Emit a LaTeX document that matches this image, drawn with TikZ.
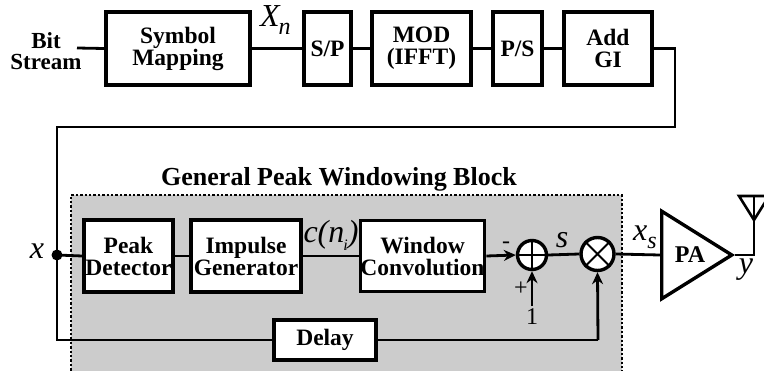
\documentclass[tikz,border=0pt]{standalone}
\usepackage{fontspec}
\setmainfont{Liberation Serif}
\usetikzlibrary{arrows.meta,shapes.geometric}
\begin{document}
\begin{tikzpicture}[x=1pt,y=-1pt,
 blk/.style={draw, line width=3.6pt, fill=white, font=\fontsize{23.5}{22}\selectfont\bfseries, align=center, inner sep=0pt},
 wire/.style={line width=2.8pt},
 arr/.style={wire, -{Stealth[length=12pt,width=11pt]}},
 lbl/.style={font=\fontsize{32}{32}\selectfont\itshape, inner sep=0pt},
 sml/.style={font=\fontsize{24}{24}\selectfont, inner sep=0pt},
 opc/.style={circle, draw, line width=3.4pt, fill=white, inner sep=0pt},
]
\useasboundingbox (0,0) rectangle (764,370);
% shaded block
\fill[black!20] (71,195) rectangle (622,375);
\draw[line width=2.4pt, dotted] (71,375) -- (71,195) -- (622,195) -- (622,375);
\node[font=\fontsize{26}{26}\selectfont\bfseries, inner sep=0pt] (title) at (339,179) {General Peak Windowing\ Block};

% top row
\node[font=\fontsize{23}{21}\selectfont\bfseries, align=center, inner sep=0pt] (bits) at (46,51) {Bit\\Stream};
\coordinate (bsout) at (77,48);
\node[blk, minimum width=144pt, minimum height=73pt] (sym) at (178,48.5) {Symbol\\Mapping};
\node[blk, minimum width=47pt, minimum height=73pt] (sp) at (327.5,48.5) {S/P};
\node[blk, minimum width=99pt, minimum height=73pt] (mod) at (421.5,48.5) {MOD\\(IFFT)};
\node[blk, minimum width=49pt, minimum height=73pt] (ps) at (517.5,48.5) {P/S};
\node[blk, minimum width=88pt, minimum height=73pt] (gi) at (608,48.5) {Add\\GI};
\node[lbl, anchor=west] (xn) at (260,20) {X\kern-1pt\raisebox{-8pt}{\fontsize{24}{24}\selectfont n}};

\draw[wire] (bsout) -- (sym.west);
\draw[wire] (sym.east) -- (sp.west);
\draw[wire] (sp.east) -- (mod.west);
\draw[wire] (mod.east) -- (ps.west);
\draw[wire] (ps.east) -- (gi.west);

% feedback wire
\coordinate (c1) at (675,48.5);
\coordinate (c2) at (675,127);
\coordinate (c3) at (57,127);
\coordinate (xdot) at (57,255);
\coordinate (c4) at (57,340);
\coordinate (c5) at (598,340);

% middle row
\node[blk, minimum width=89pt, minimum height=72pt] (pd) at (128.5,256) {Peak\\Detector};
\node[blk, minimum width=110pt, minimum height=72pt] (ig) at (246,256) {Impulse\\Generator};
\node[blk, minimum width=123pt, minimum height=71pt] (wc) at (422.5,256) {Window\\Convolution};
\node[blk, minimum width=102pt, minimum height=40pt] (dl) at (325,340) {Delay};
\node[opc, minimum size=29pt] (add) at (532,255) {};
\node[opc, minimum size=33pt] (mul) at (597.5,254) {};
\draw[line width=1.5pt] (add.north) -- (add.south) (add.west) -- (add.east);
\draw[line width=1.8pt] (mul.north east) -- (mul.south west) (mul.north west) -- (mul.south east);
\node[draw, line width=3.4pt, isosceles triangle, isosceles triangle apex angle=64, minimum height=70pt, inner sep=0pt, anchor=apex] (pa) at (735,255) {};
\node[font=\fontsize{24}{24}\selectfont\bfseries, inner sep=0pt] (patext) at (690,255) {PA};
\coordinate (one) at (532,306);
\node[sml] (onel) at (532,317) {1};
\node[sml] (plus) at (521,289) {+};
\node[sml] (minus) at (506,245) {-};

\draw[wire] (gi.east) -- (c1) -- (c2) -- (c3) -- (xdot) -- (c4) -- (dl.west);
\fill (xdot) circle (5.5pt);
\draw[wire] (xdot) -- (pd.west);
\draw[wire] (pd.east) -- (ig.west);
\draw[wire] (ig.east) -- (wc.west);
\draw[arr] (wc.east) -- (add.west);
\draw[arr] (one) -- (add.south);
\draw[wire] (add.east) -- (mul.west);
\draw[wire] (dl.east) -- (c5);
\draw[arr] (c5) -- (mul.south);
\draw[wire] (mul.east) -- (pa.west);

% antenna
\coordinate (ant1) at (754,255);
\coordinate (ant2) at (754,196);
\draw[wire] (pa.apex) -- (ant1) -- (ant2);
\draw[line width=2.6pt, line join=miter] (739,196) -- (769,196) -- (754,220) -- cycle;

% labels
\node[lbl] (xl) at (37,251) {x};
\node[lbl] (cl) at (331,235) {c(n\kern-1pt\raisebox{-8pt}{\fontsize{16}{16}\selectfont i})};
\node[lbl] (sl) at (562,240) {s};
\node[lbl] (xsl) at (645,237) {x\raisebox{-8pt}{\fontsize{24}{24}\selectfont s}};
\node[lbl] (yl) at (746,270) {y};
\end{tikzpicture}
\end{document}
